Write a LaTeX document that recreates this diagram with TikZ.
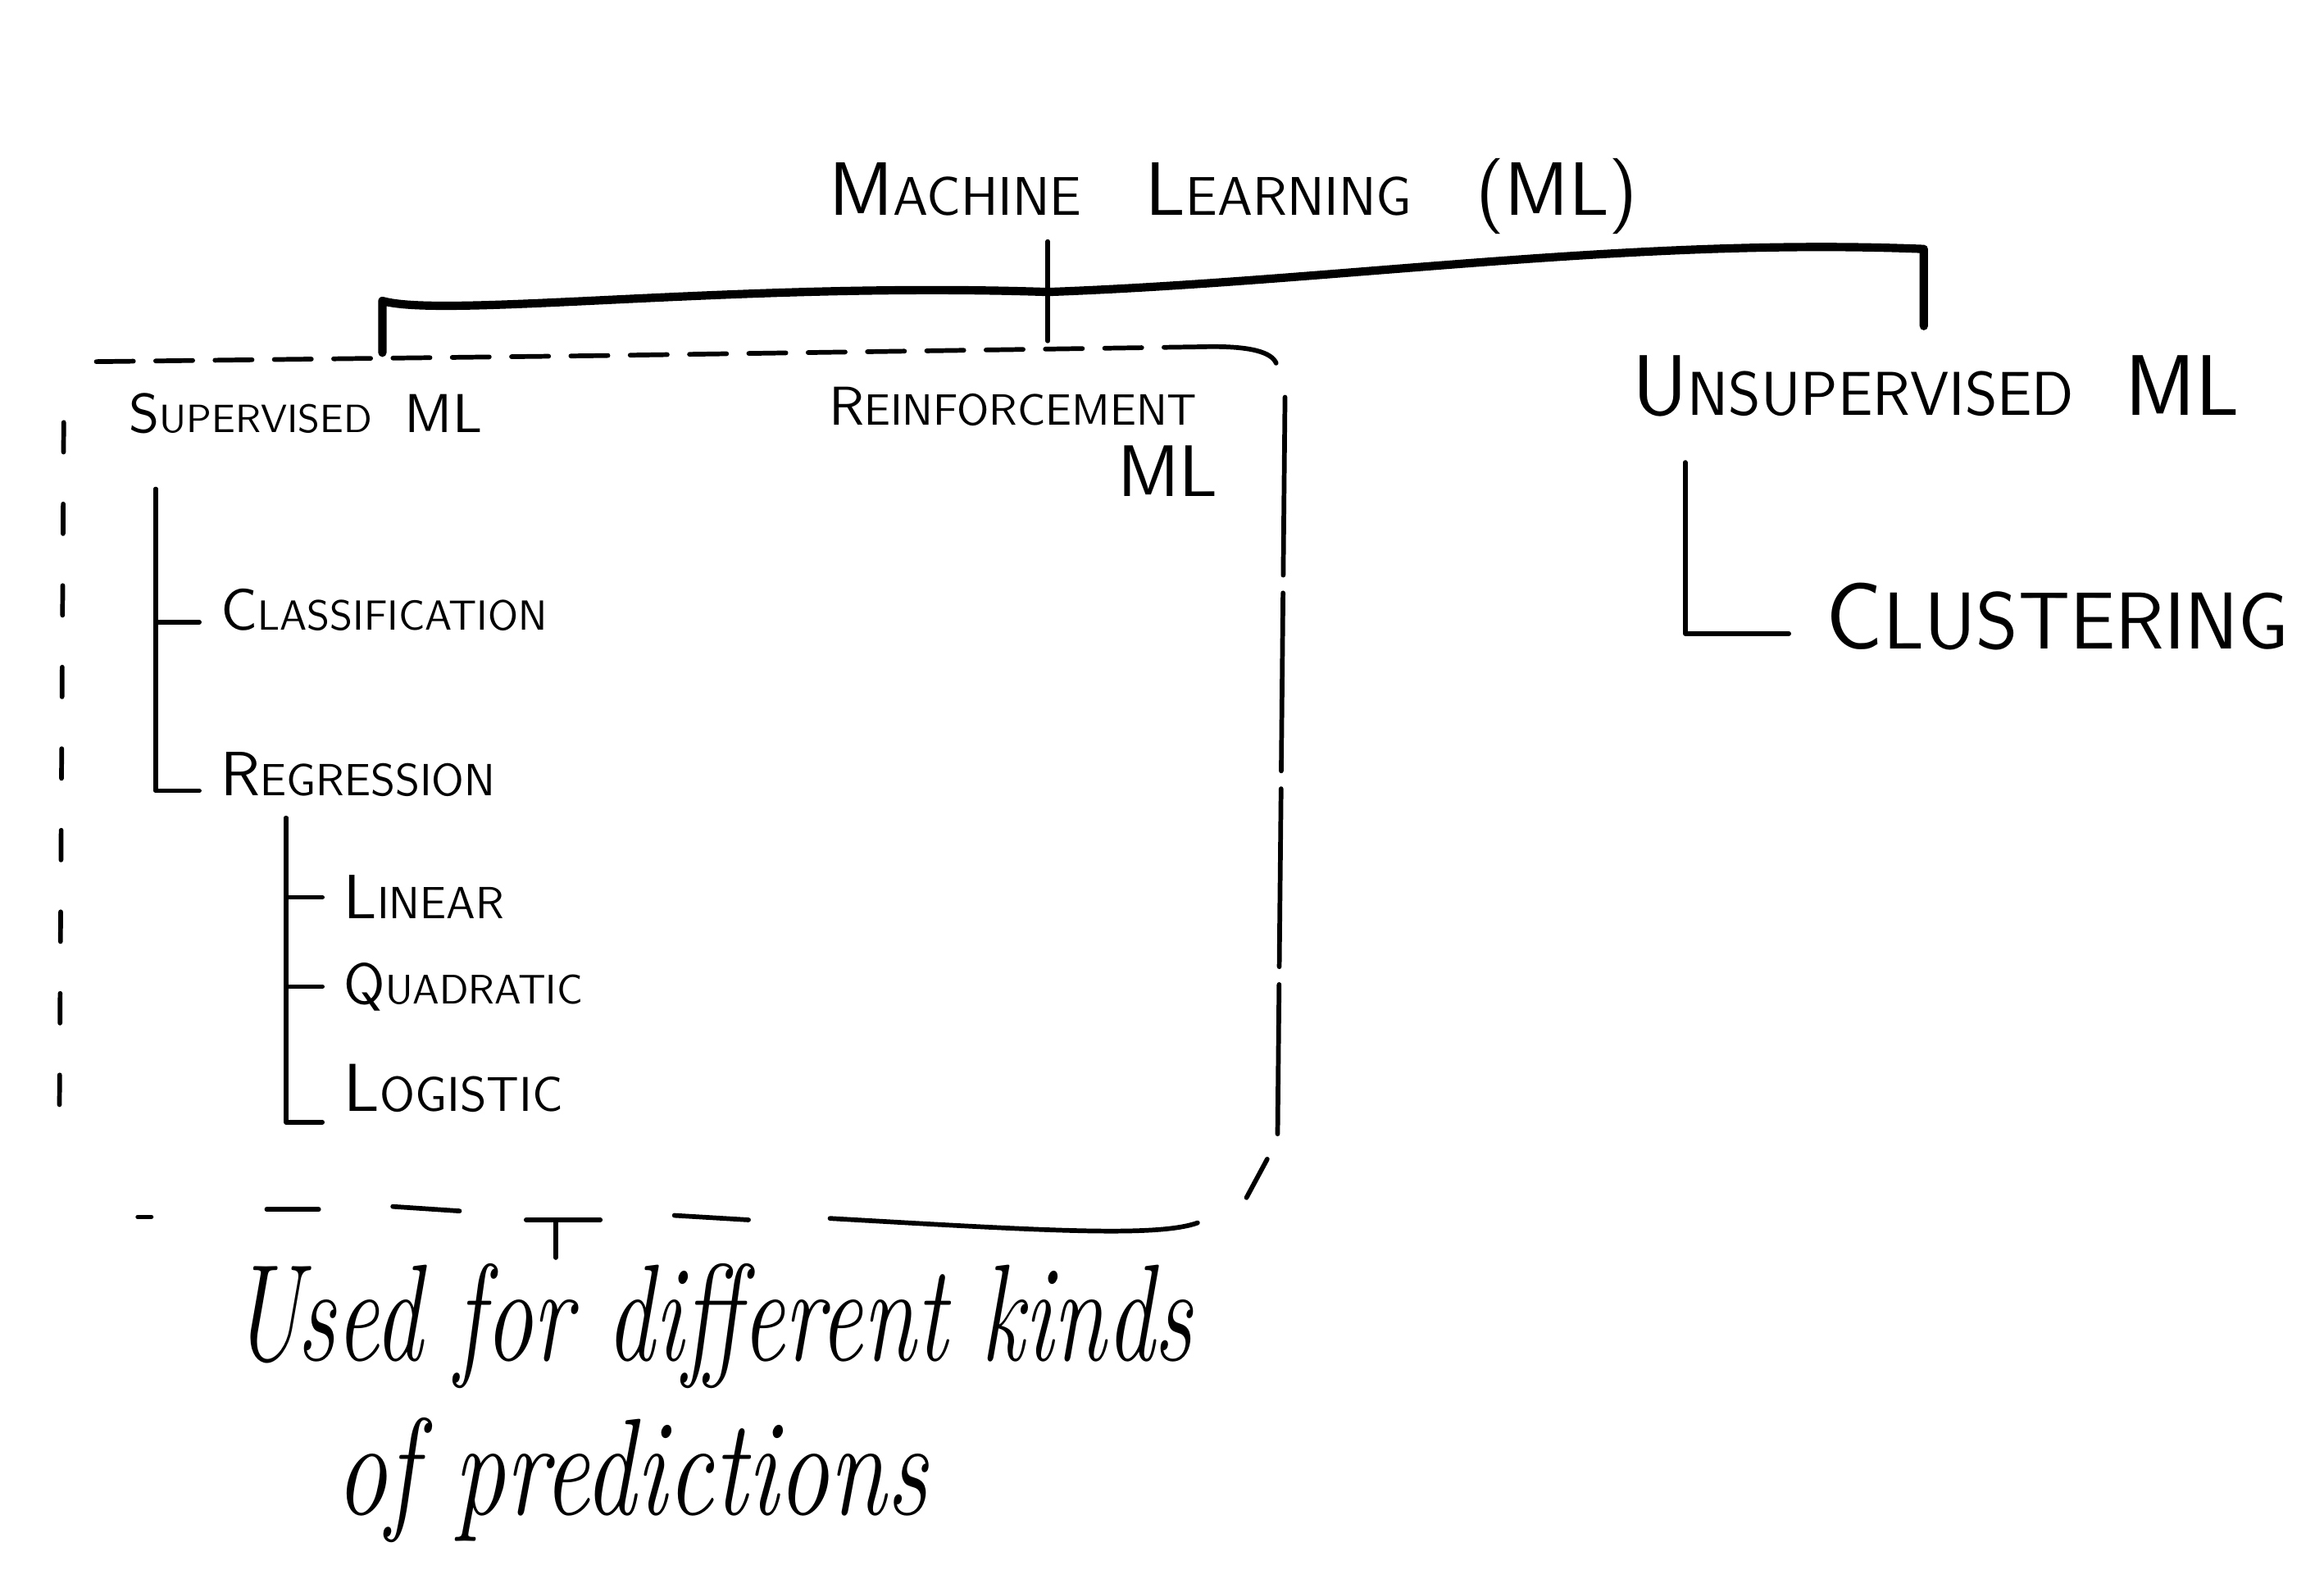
\documentclass[tikz,border=0pt]{standalone}
\usepackage{graphicx}
\usetikzlibrary{calc}
\newcommand{\hsc}[3][0.72]{#2\scalebox{#1}{#3}}
\newcommand{\fs}[1]{\fontsize{#1}{#1}\selectfont\sffamily}
\begin{document}
\begin{tikzpicture}[x=0.01cm,y=-0.01cm,
  lbl/.style={inner sep=1pt, anchor=base west},
  ink/.style={line width=0.9pt, line cap=round, line join=round},
  brk/.style={line width=1.6pt, line cap=round, line join=round},
  note/.style={inner sep=1pt, anchor=base west, font=\fontsize{22}{22}\selectfont\itshape},
]
\useasboundingbox[fill=white] (0,0) rectangle (1568,1071);

% texts
\node[lbl, font=\fs{14.5}] (title) at (555,145) {\hsc{M}{ACHINE}\hspace{0.85em}\hsc{L}{EARNING}\hspace{0.85em}(ML)};
\node[lbl, font=\fs{10.5}] (sup) at (83,292) {\hsc{S}{UPERVISED}\hspace{0.6em}ML};
\node[lbl, font=\fs{10.5}] (rein) at (555,287) {\hsc[0.8]{R}{EINFORCEMENT}};
\node[inner sep=1pt, anchor=base east, font=\fs{14}] (reinml) at (826,335) {ML};
\node[lbl, font=\fs{16.5}] (unsup) at (1097,280) {\hsc{U}{NSUPERVISED}\hspace{0.6em}ML};
\node[lbl, font=\fs{11.2}] (cls) at (145,425) {\hsc{C}{LASSIFICATION}};
\node[lbl, font=\fs{12}] (reg) at (145,537) {\hsc{R}{EGRESSION}};
\node[lbl, font=\fs{12}] (lin) at (228,620) {\hsc{L}{INEAR}};
\node[lbl, font=\fs{11}] (quad) at (228,677) {\hsc{Q}{UADRATIC}};
\node[lbl, font=\fs{13}] (log) at (228,750) {\hsc{L}{OGISTIC}};
\node[lbl, font=\fs{18.2}] (clust) at (1228,438) {\hsc[0.85]{C}{LUSTERING}};
\node[note] (note1) at (152,918) {\scalebox{0.84}[1.2]{Used for different kinds}};
\node[note] (note2) at (222,1022) {\scalebox{0.9}[1.2]{of predictions}};

% bracket from the title
\coordinate (bl) at (258,238);
\coordinate (bm) at (707,230);
\coordinate (bt) at (707,163);
\coordinate (br) at (1298,220);
\draw[brk] (bl) -- (258,203) .. controls (300,215) and (500,190) .. (707,197)
  .. controls (900,190) and (1100,160) .. (1298,168) -- (br);
\draw[ink] (bt) -- (bm);

% dashed box
\draw[ink, dash pattern=on 0.25cm off 0.15cm] (65,244) -- (400,240) -- (810,234);
\draw[ink] (810,234) .. controls (845,233) and (858,238) .. (861,245);
\draw[ink, dash pattern=on 1.2cm off 0.12cm] (867,268) -- (862,765);
\draw[ink] (855,782) -- (841,808);
\draw[ink] (808,825) .. controls (780,835) and (700,830) .. (560,822);
\draw[ink] (455,820) -- (505,823);
\draw[ink] (265,814) -- (310,817);
\draw[ink] (180,816) -- (215,816);
\draw[ink] (93,821) -- (102,821);
\draw[ink, dash pattern=on 0.2cm off 0.35cm] (43,285) -- (40,765);
\coordinate (tt) at (375,823);
\draw[ink] (355,823) -- (405,823);
\draw[ink] (tt) -- (tt |- note1.north);

% supervised tree
\coordinate (sv) at (105,330);
\draw[ink] (sv) |- ([xshift=-3pt,yshift=1.5pt]cls.base west);
\draw[ink] (sv) |- ([xshift=-3pt,yshift=1pt]reg.base west);
\coordinate (rv) at (193,552);
\draw[ink] (rv) |- ([xshift=-3pt]lin.west);
\draw[ink] (rv) |- ([xshift=-3pt]quad.west);
\draw[ink] (rv) |- ([xshift=-3pt,yshift=-2pt]log.base west);

% unsupervised tree
\coordinate (uv) at (1137,312);
\draw[ink] (uv) |- ([xshift=-6pt,yshift=3pt]clust.base west);
\end{tikzpicture}
\end{document}
